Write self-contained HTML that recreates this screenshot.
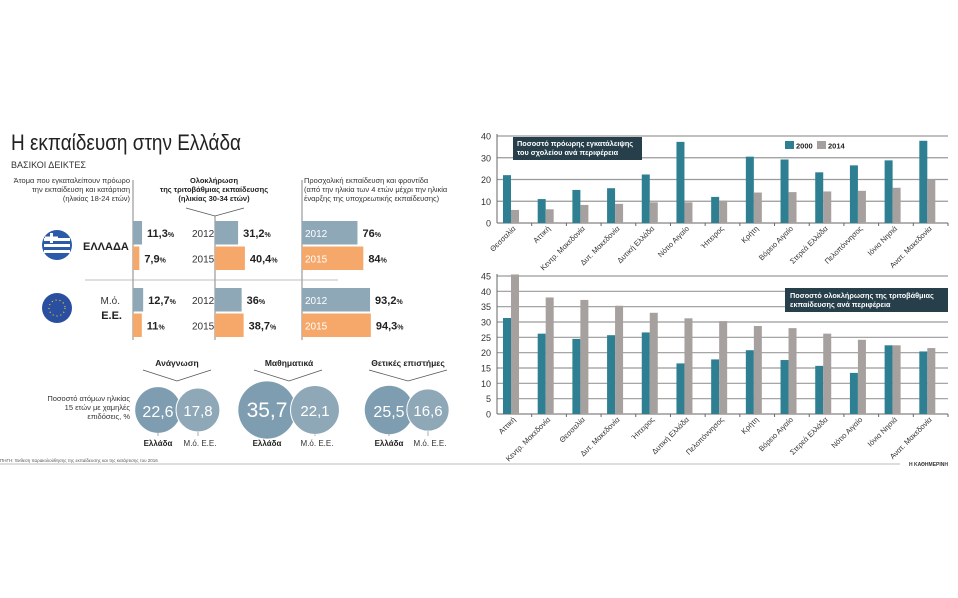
<!DOCTYPE html>
<html><head><meta charset="utf-8">
<style>
html,body{margin:0;padding:0;background:#fff;}
svg{display:block;font-family:"Liberation Sans","DejaVu Sans",sans-serif;}
</style></head>
<body>
<svg id="s" width="958" height="598" viewBox="0 0 958 598">
<g id="left">
<text x="11" y="150" font-size="22" fill="#222" textLength="230" lengthAdjust="spacingAndGlyphs">Η εκπαίδευση στην Ελλάδα</text>
<text x="11" y="168" font-size="9" fill="#333">ΒΑΣΙΚΟΙ ΔΕΙΚΤΕΣ</text>
<g font-size="7.5" fill="#333" text-anchor="end">
<text x="130" y="183">Άτομα που εγκαταλείπουν πρόωρο</text><text x="130" y="192">την εκπαίδευση και κατάρτιση</text><text x="130" y="201">(ηλικίας 18-24 ετών)</text></g>
<g font-size="7.5" fill="#222" font-weight="bold" text-anchor="middle">
<text x="214" y="183">Ολοκλήρωση</text><text x="214" y="192">της τριτοβάθμιας εκπαίδευσης</text><text x="214" y="201">(ηλικίας 30-34 ετών)</text></g>
<polyline points="186,208 215,216 244,208" fill="none" stroke="#555" stroke-width="0.8"/>
<g font-size="7.5" fill="#333">
<text x="304" y="183">Προσχολική εκπαίδευση και φροντίδα</text><text x="304" y="192">(από την ηλικία των 4 ετών μέχρι την ηλικία</text><text x="304" y="201">έναρξης της υποχρεωτικής εκπαίδευσης)</text></g>
<g stroke="#666" stroke-width="0.8"><line x1="133" y1="180" x2="133" y2="340"/><line x1="215" y1="216" x2="215" y2="340"/><line x1="302" y1="180" x2="302" y2="340"/><line x1="85" y1="280" x2="338" y2="280" stroke="#aaa"/></g>
<g><circle cx="57" cy="245" r="15" fill="#2a5aa8"/>
<rect x="44" y="238" width="26" height="3" fill="#fff"/><rect x="44" y="244" width="26" height="3" fill="#fff"/><rect x="44" y="250" width="26" height="3" fill="#fff"/><rect x="50" y="233" width="3" height="10" fill="#fff"/><rect x="45" y="236.5" width="13" height="3" fill="#fff"/></g>
<g><circle cx="57" cy="308" r="15" fill="#2a4fa0"/><circle cx="57" cy="308" r="8" fill="none" stroke="#f5d020" stroke-width="1.2" stroke-dasharray="1 3"/></g>
<text x="83" y="250" font-size="11" font-weight="bold" fill="#222">ΕΛΛΑΔΑ</text>
<text x="120" y="304" font-size="10" fill="#333" text-anchor="end">Μ.ό.</text>
<text x="122" y="319" font-size="11" font-weight="bold" fill="#222" text-anchor="end">Ε.Ε.</text>
<g id="barsL"></g>
<g font-size="8.5" font-weight="bold" fill="#222" text-anchor="middle">
<text x="177" y="366">Ανάγνωση</text><text x="289" y="366">Μαθηματικά</text><text x="408" y="366">Θετικές επιστήμες</text></g>
<g fill="none" stroke="#555" stroke-width="0.8"><polyline points="143,370 177,381 211,370"/><polyline points="254,370 289,381 322,370"/><polyline points="369,370 408,381 447,370"/></g>
<g font-size="7.5" fill="#333" text-anchor="end"><text x="130" y="401">Ποσοστό ατόμων ηλικίας</text><text x="130" y="410">15 ετών με χαμηλές</text><text x="130" y="419">επιδόσεις, %</text></g>
<g id="circles"></g>
<text x="0" y="462" font-size="4.5" fill="#555">ΠΗΓΗ: Έκθεση παρακολούθησης της εκπαίδευσης και της κατάρτισης του 2016</text>
</g>
<line x1="0" y1="464" x2="900" y2="464" stroke="#ddd" stroke-width="2"/>
<text x="948" y="466" font-size="5" font-weight="bold" fill="#333" text-anchor="end">Η ΚΑΘΗΜΕΡΙΝΗ</text>
<g id="c1"></g>
<g id="c2"></g>
</svg>
<script>
const NS="http://www.w3.org/2000/svg";
function mk(p,t,a,txt){const e=document.createElementNS(NS,t);for(const k in a)e.setAttribute(k,a[k]);if(txt!==undefined)e.textContent=txt;p.appendChild(e);return e;}
const leftRows=[["11,3",11.3,"7,9",7.9,"31,2",31.2,"40,4",40.4,"76",76,"84",84],["12,7",12.7,"11",11,"36",36,"38,7",38.7,"93,2",93.2,"94,3",94.3]];
const leftYears=["2012","2015"];
const blue="#8ea8b8",orange="#f6a86a";
const bl=document.getElementById('barsL');
function pct(x,y,txt){const t=mk(bl,'text',{x:x,y:y,'font-size':11,'font-weight':'bold',fill:'#222'},txt);const s=document.createElementNS(NS,'tspan');s.textContent='%';s.setAttribute('font-size','7');t.appendChild(s);}
leftRows.forEach((r,ri)=>{
  const y0=ri?288:221;
  for(let j=0;j<2;j++){
    const y=y0+j*25.5, col=j?orange:blue;
    const v1=r[j*2+1],v2=r[4+j*2+1],v3=r[8+j*2+1];
    let e=mk(bl,'rect',{x:133,y:y,width:v1*0.8,height:23.5,fill:col});
    
    
    pct(133+v1*0.8+5,y+16,r[j*2]);
    mk(bl,'text',{x:192,y:y+16,'font-size':10,fill:'#333'},leftYears[j]);
    e=mk(bl,'rect',{x:215,y:y,width:v2*0.74,height:23.5,fill:col});
    
    
    pct(215+v2*0.74+5,y+16,r[4+j*2]);
    e=mk(bl,'rect',{x:302,y:y,width:v3*0.73,height:23.5,fill:col});
    
    
    mk(bl,'text',{x:305,y:y+16,'font-size':10,fill:'#fff'},leftYears[j]);
    pct(302+v3*0.73+5,y+16,r[8+j*2]);
  }
});
const pisaGr=[22.6,35.7,25.5], pisaEu=[17.8,22.1,16.6];
const pisaGrTxt=["22,6","35,7","25,5"], pisaEuTxt=["17,8","22,1","16,6"];
const pisaX=[[158,198],[267,315],[389,428]];
const cg=document.getElementById('circles');
for(let i=0;i<3;i++){
  const rg=Math.sqrt(pisaGr[i])*4.8, re=Math.sqrt(pisaEu[i])*5.2;
  let c=mk(cg,'circle',{cx:pisaX[i][0],cy:410,r:rg,fill:'#7f9db0'});
  
  
  c=mk(cg,'circle',{cx:pisaX[i][1],cy:410,r:re,fill:'#8ea8b8',stroke:'#fff','stroke-width':1});
  
  
  mk(cg,'text',{x:pisaX[i][0],y:417,'font-size':rg>26?21:16,fill:'#fff','text-anchor':'middle'},pisaGrTxt[i]);
  mk(cg,'text',{x:pisaX[i][1],y:416,'font-size':15,fill:'#fff','text-anchor':'middle'},pisaEuTxt[i]);
  mk(cg,'line',{x1:pisaX[i][0],y1:410+rg,x2:pisaX[i][0],y2:436,stroke:'#888','stroke-width':0.7});
  mk(cg,'line',{x1:pisaX[i][1],y1:410+re,x2:pisaX[i][1],y2:436,stroke:'#888','stroke-width':0.7});
  mk(cg,'text',{x:pisaX[i][0],y:446,'font-size':8,'font-weight':'bold',fill:'#222','text-anchor':'middle'},'Ελλάδα');
  mk(cg,'text',{x:pisaX[i][1]+2,y:446,'font-size':8,fill:'#333','text-anchor':'middle'},'Μ.ό. Ε.Ε.');
}
const cats1=["Θεσσαλία","Αττική","Κεντρ. Μακεδονία","Δυτ. Μακεδονία","Δυτική Ελλάδα","Νότιο Αιγαίο","Ήπειρος","Κρήτη","Βόρειο Αιγαίο","Στερεά Ελλάδα","Πελοπόννησος","Ιόνια Νησιά","Ανατ. Μακεδονία"];
const s1_2000=[22,11,15.2,16,22.3,37.3,12,30.5,29.2,23.3,26.5,28.8,37.8];
const s1_2014=[6,6.3,8.3,8.8,9.5,9.5,10.3,14,14.2,14.5,14.8,16.2,20];
const ticks1=[0,10,20,30,40];
const cats2=["Αττική","Κεντρ. Μακεδονία","Θεσσαλία","Δυτ. Μακεδονία","Ήπειρος","Δυτική Ελλάδα","Πελοπόννησος","Κρήτη","Βόρειο Αιγαίο","Στερεά Ελλάδα","Νότιο Αιγαίο","Ιόνια Νησιά","Ανατ. Μακεδονία"];
const s2_2000=[31.3,26.2,24.5,25.7,26.6,16.5,17.8,20.8,17.6,15.7,13.4,22.4,20.4];
const s2_2014=[45.5,38,37.2,35.3,33,31.2,30.3,28.7,28,26.2,24.2,22.4,21.5];
const ticks2=[0,5,10,15,20,25,30,35,40,45];
function chart(id,cats,a,b,ticks,max,top,bot){
  const g=document.getElementById(id), x0=497,x1=948,gw=(x1-x0)/cats.length;
  const y=v=>bot-(v/max)*(bot-top);
  ticks.forEach(t=>{
    mk(g,'line',{x1:x0,y1:y(t),x2:x1,y2:y(t),stroke:t?'#9a9a9a':'#666','stroke-width':t?1.2:1});
    mk(g,'text',{x:x0-6,y:y(t)+3.5,'font-size':9,fill:'#333','text-anchor':'end'},t);
  });
  mk(g,'line',{x1:x0,y1:top-2,x2:x0,y2:bot,stroke:'#666','stroke-width':1});
  cats.forEach((c,i)=>{
    const gx=x0+i*gw;
    let r=mk(g,'rect',{x:gx+6,y:y(a[i]),width:8,height:bot-y(a[i]),fill:'#2f7f93'});
    
    
    r=mk(g,'rect',{x:gx+14,y:y(b[i]),width:8,height:bot-y(b[i]),fill:'#a6a09e'});
    
    
    mk(g,'line',{x1:gx+gw,y1:bot,x2:gx+gw,y2:bot+3,stroke:'#666'});
    const tx=gx+gw*0.55, ty=bot+6;
    const t=mk(g,'text',{x:tx,y:ty,'font-size':7.5,fill:'#333','text-anchor':'end',transform:`rotate(-45 ${tx} ${ty})`},c);
    
    
  });
}
chart('c1',cats1,s1_2000,s1_2014,ticks1,40,136,223);
chart('c2',cats2,s2_2000,s2_2014,ticks2,45,276,414);
const g1=document.getElementById('c1'),g2=document.getElementById('c2');
mk(g1,'rect',{x:513,y:137,width:129,height:23,fill:'#263f4a'});
mk(g1,'text',{x:517,y:146,'font-size':7.3,'font-weight':'bold',fill:'#fff'},'Ποσοστό πρόωρης εγκατάλειψης');
mk(g1,'text',{x:517,y:155,'font-size':7.3,'font-weight':'bold',fill:'#fff'},'του σχολείου ανά περιφέρεια');
mk(g1,'rect',{x:785,y:141,width:9,height:8,fill:'#2f7f93'});
mk(g1,'text',{x:796,y:148.5,'font-size':7.5,'font-weight':'bold',fill:'#222'},'2000');
mk(g1,'rect',{x:817,y:141,width:9,height:8,fill:'#a6a09e'});
mk(g1,'text',{x:828,y:148.5,'font-size':7.5,'font-weight':'bold',fill:'#222'},'2014');
mk(g2,'rect',{x:785,y:288,width:163,height:24,fill:'#263f4a'});
mk(g2,'text',{x:790,y:298,'font-size':7.3,'font-weight':'bold',fill:'#fff'},'Ποσοστό ολοκλήρωσης της τριτοβάθμιας');
mk(g2,'text',{x:790,y:307,'font-size':7.3,'font-weight':'bold',fill:'#fff'},'εκπαίδευσης ανά περιφέρεια');
</script>
</body></html>
